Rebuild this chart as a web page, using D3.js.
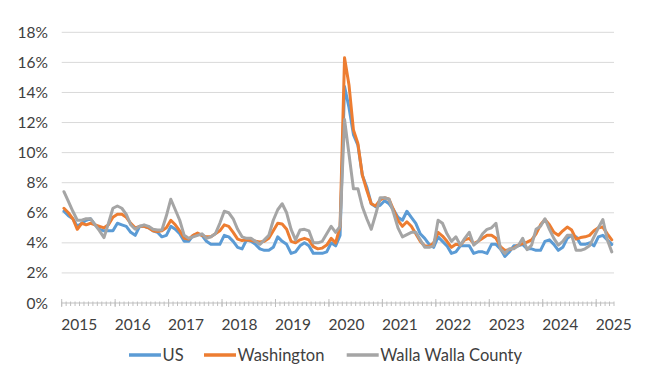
<!DOCTYPE html>
<html>
<head>
<meta charset="utf-8">
<script src="https://cdn.jsdelivr.net/npm/d3@7"></script>
<style>
  html, body { margin: 0; padding: 0; background: #fff; }
  svg { display: block; font-family: Lato, "Open Sans", sans-serif; }
</style>
</head>
<body>
<svg id="chart" width="650" height="379"></svg>
<script>
// Monthly, Jan 2015 .. Apr 2025 (124 months)
const startYear = 2015;
const monthCount = 124;
const yearLabels = ["2015","2016","2017","2018","2019","2020","2021","2022","2023","2024","2025"];
const yTicks = [0, 2, 4, 6, 8, 10, 12, 14, 16, 18];
const seriesNames = ["US", "Washington", "Walla Walla County"];
const seriesColors = ["#5B9BD5", "#ED7D31", "#A5A5A5"];

const usValues = [
  6.1,5.8,5.6,5.1,5.3,5.5,5.6,5.2,4.9,4.8,4.8,4.8,
  5.3,5.2,5.1,4.7,4.5,5.1,5.1,5.0,4.8,4.7,4.4,4.5,
  5.1,4.9,4.6,4.1,4.1,4.5,4.6,4.5,4.1,3.9,3.9,3.9,
  4.5,4.4,4.1,3.7,3.6,4.2,4.1,3.9,3.6,3.5,3.5,3.7,
  4.4,4.1,3.9,3.3,3.4,3.8,4.0,3.8,3.3,3.3,3.3,3.4,
  4.0,3.8,4.5,14.4,13.0,11.2,10.5,8.5,7.7,6.6,6.4,6.5,
  6.8,6.6,6.2,5.7,5.5,6.1,5.7,5.3,4.6,4.3,3.9,3.7,
  4.4,4.1,3.8,3.3,3.4,3.8,3.8,3.8,3.3,3.4,3.4,3.3,
  3.9,3.9,3.6,3.1,3.4,3.8,3.8,3.9,3.6,3.6,3.5,3.5,
  4.1,4.2,3.9,3.5,3.7,4.3,4.5,4.4,3.9,3.9,4.0,3.8,
  4.4,4.5,4.2,3.9
];
const waValues = [
  6.3,6.0,5.6,4.9,5.3,5.2,5.3,5.2,5.1,5.0,5.2,5.7,
  5.9,5.9,5.7,5.3,5.0,5.1,5.1,5.0,4.8,4.75,4.8,5.0,
  5.5,5.2,4.8,4.3,4.25,4.5,4.65,4.5,4.4,4.4,4.6,4.8,
  5.2,5.1,4.7,4.25,4.15,4.2,4.15,4.1,4.05,4.1,4.3,4.8,
  5.3,5.25,4.9,4.1,4.0,4.2,4.3,4.2,3.75,3.6,3.65,3.85,
  4.3,4.0,5.1,16.3,14.5,11.5,10.6,8.5,7.5,6.6,6.45,6.85,
  7.0,6.9,6.2,5.5,5.1,5.4,5.1,4.6,4.1,3.8,3.75,4.0,
  4.7,4.45,4.1,3.7,3.9,3.85,4.2,4.3,3.95,4.1,4.3,4.5,
  4.5,4.3,3.75,3.5,3.55,3.65,3.85,3.95,4.05,4.2,4.6,5.2,
  5.55,5.2,4.7,4.5,4.8,5.05,4.85,4.25,4.35,4.4,4.5,4.8,
  5.0,5.05,4.6,4.2
];
const wwValues = [
  7.4,6.75,6.1,5.5,5.5,5.6,5.6,5.2,4.8,4.35,5.3,6.3,
  6.45,6.3,5.9,5.2,4.9,5.1,5.2,5.1,4.9,4.85,4.85,5.8,
  6.9,6.2,5.5,4.5,4.3,4.4,4.5,4.6,4.3,4.4,4.6,5.3,
  6.1,6.0,5.6,4.9,4.4,4.3,4.3,4.1,3.9,4.2,4.5,5.5,
  6.2,6.6,6.0,4.9,4.2,4.85,4.9,4.8,4.0,4.0,4.1,4.6,
  5.1,4.7,5.1,12.2,9.9,7.6,7.6,6.4,5.6,4.9,5.9,7.0,
  7.0,6.9,6.0,5.0,4.4,4.55,4.7,4.7,4.2,3.7,3.7,3.8,
  5.5,5.3,4.6,4.1,4.4,3.85,4.3,4.7,3.85,4.1,4.6,4.9,
  5.0,5.3,3.6,3.3,3.6,3.6,3.8,4.3,3.55,3.85,4.9,5.1,
  5.6,4.9,4.3,3.85,4.1,4.5,4.5,3.5,3.5,3.6,3.8,4.4,
  5.0,5.55,4.2,3.4
];

const months = d3.range(monthCount).map(i => {
  const y = startYear + Math.floor(i / 12);
  const m = (i % 12) + 1;
  return y + "-" + String(m).padStart(2, "0");
});
const seriesValues = [usValues, waValues, wwValues];

const svg = d3.select("#chart");
const plot = { left: 61.7, right: 614, top: 32.3, bottom: 303 };
const axisFontSize = 15.5;
const legendFontSize = 16.5;
const textColor = "#404040";

const x = d3.scaleBand().domain(months).range([plot.left, plot.right]).padding(0);
const y = d3.scaleLinear().domain([0, 18]).range([plot.bottom, plot.top]);
const cx = m => x(m) + x.bandwidth() / 2;

// gridlines
svg.append("g").selectAll("line")
  .data(yTicks.filter(d => d > 0))
  .join("line")
  .attr("x1", plot.left).attr("x2", plot.right)
  .attr("y1", d => y(d)).attr("y2", d => y(d))
  .attr("stroke", "#D9D9D9").attr("stroke-width", 1);

// y labels
svg.append("g").selectAll("text")
  .data(yTicks)
  .join("text")
  .attr("x", 48)
  .attr("y", d => y(d) + 5.5)
  .attr("text-anchor", "end")
  .attr("font-size", axisFontSize)
  .attr("fill", textColor)
  .text(d => d + "%");

// x axis line
svg.append("line")
  .attr("x1", plot.left).attr("x2", plot.right)
  .attr("y1", y(0)).attr("y2", y(0))
  .attr("stroke", "#BFBFBF").attr("stroke-width", 1);

// minor ticks (every month boundary)
const boundaries = months.map(m => x(m)).concat([plot.right]);
svg.append("g").selectAll("line")
  .data(boundaries)
  .join("line")
  .attr("x1", d => d).attr("x2", d => d)
  .attr("y1", y(0) - 1.5).attr("y2", y(0) + 3)
  .attr("stroke", "#BFBFBF").attr("stroke-width", 1);

// major ticks (year boundaries)
const yearStarts = months.filter((m, i) => i % 12 === 0);
svg.append("g").selectAll("line")
  .data(yearStarts)
  .join("line")
  .attr("x1", d => x(d)).attr("x2", d => x(d))
  .attr("y1", y(0) - 4).attr("y2", y(0) + 4)
  .attr("stroke", "#BFBFBF").attr("stroke-width", 1);

// year labels
svg.append("g").selectAll("text")
  .data(yearStarts)
  .join("text")
  .attr("x", d => x(d) + 17.5)
  .attr("y", 330)
  .attr("text-anchor", "middle")
  .attr("font-size", axisFontSize)
  .attr("fill", textColor)
  .text((d, i) => yearLabels[i]);

// series lines
const line = d3.line()
  .x((d, i) => cx(months[i]))
  .y(d => y(d));
seriesValues.forEach((vals, k) => {
  svg.append("path")
    .datum(vals)
    .attr("d", line)
    .attr("fill", "none")
    .attr("stroke", seriesColors[k])
    .attr("stroke-width", 3)
    .attr("stroke-linejoin", "round")
    .attr("stroke-linecap", "round");
});

// legend
const legendStarts = [129, 204, 346.7];
const ly = 355;
const legend = svg.append("g");
seriesNames.forEach((name, k) => {
  const lx = legendStarts[k];
  legend.append("line")
    .attr("x1", lx).attr("x2", lx + 32)
    .attr("y1", ly).attr("y2", ly)
    .attr("stroke", seriesColors[k]).attr("stroke-width", 3.5);
  legend.append("text")
    .attr("x", lx + 33.5)
    .attr("y", ly + 6)
    .attr("font-size", legendFontSize)
    .attr("fill", textColor)
    .text(name);
});
</script>
</body>
</html>
